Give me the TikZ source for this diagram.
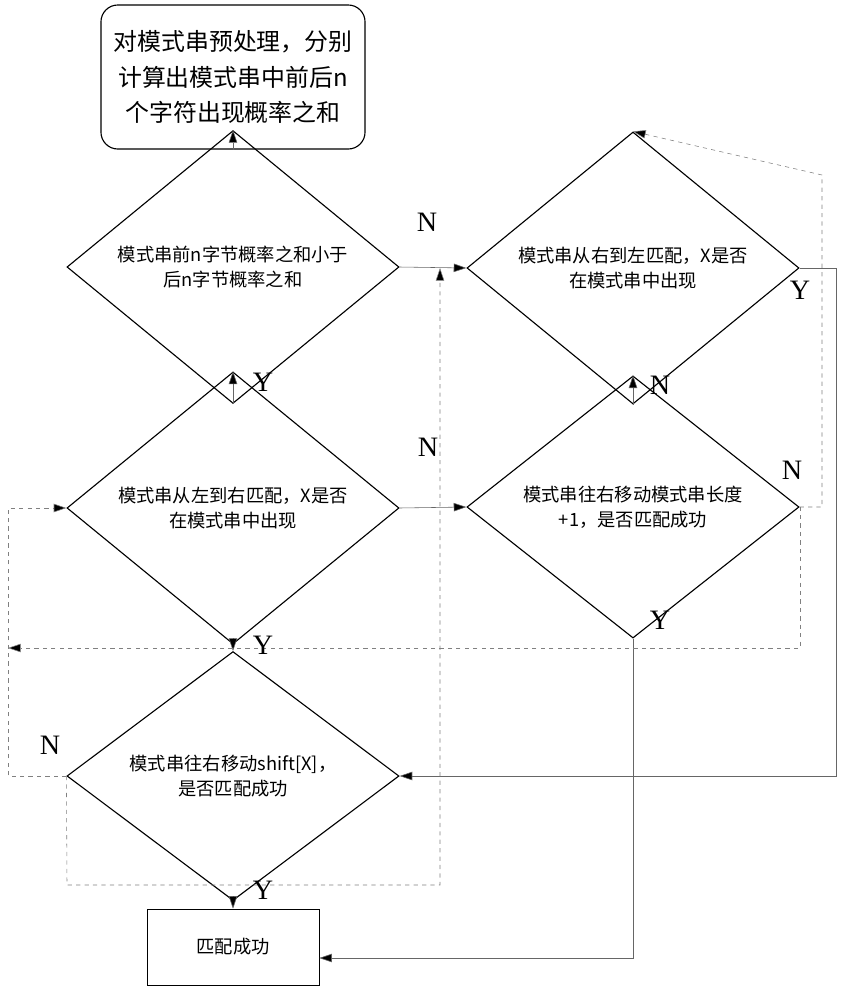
\documentclass[tikz,border=0pt]{standalone}
\usepackage{fontspec}
\setmainfont{Liberation Serif}
\newfontfamily\cjk{Noto Sans CJK SC}
\usetikzlibrary{shapes.geometric,arrows.meta}
\tikzset{
  decide/.style={diamond, draw=black, thick, minimum width=8.3cm, minimum height=4.65cm, inner sep=0pt, align=center, font=\cjk\fontsize{13}{18}\selectfont},
  flow/.style={draw=black!60, -{Triangle[length=9pt,width=6pt,fill=black]}},
  back/.style={draw=black!50, dashed, -{Triangle[length=9pt,width=6pt,fill=black]}},
  yn/.style={font=\fontsize{20}{20}\selectfont}
}
\begin{document}
\begin{tikzpicture}[x=0.025cm,y=-0.025cm]
  \useasboundingbox (0,0) rectangle (844,1000);
  % boxes
  \node[draw, thick, rounded corners=12pt, minimum width=6.6cm, minimum height=3.6cm, align=center, font=\cjk\fontsize{17}{25}\selectfont] (prep) at (233,77) {对模式串预处理，分别\\计算出模式串中前后n\\个字符出现概率之和};
  \node[decide] (cmp) at (233,267) {模式串前n字节概率之和小于\\后n字节概率之和};
  \node[decide] (ltr) at (233,508) {模式串从左到右匹配，X是否\\在模式串中出现};
  \node[decide] (sft) at (233,776) {模式串往右移动shift[X]，\\是否匹配成功};
  \node[decide] (rtl) at (633,268) {模式串从右到左匹配，X是否\\在模式串中出现};
  \node[decide] (len) at (633,507) {模式串往右移动模式串长度\\+1，是否匹配成功};
  \node[draw, thin, minimum width=4.3cm, minimum height=1.9cm, font=\cjk\fontsize{13}{18}\selectfont] (done) at (233,947) {匹配成功};
  \coordinate (jn) at (440,268);
  % solid connectors
  \draw[flow] (prep) -- (cmp);
  \draw[flow] (cmp.east) -- (rtl.west);
  \draw[flow] (cmp) -- (ltr);
  \draw[flow] (ltr.east) -- (len.west);
  \draw[flow] (ltr) -- (sft);
  \draw[flow] (rtl) -- (len);
  \draw[flow] (sft) -- (done);
  \draw[flow] (rtl.east) -- (836,268) -- (836,776) -- (sft.east);
  \draw[flow] (len.south) -- (633,958) -- (done.east |- 0,958);
  % dashed returns
  \draw[back] (len.east) -- (822,507) -- (822,175) -- (rtl.north);
  \draw[back] (len.east) -- (800,507) -- (800,648) -- (8,648);
  \draw[back] (sft.west) -- (8,776) -- (8,508) -- (ltr.west);
  \draw[back] (sft.west) -- (67,885) -- (440,885) -- (jn);
  % labels
  \node[yn] (l1) at (427,222) {N};
  \node[yn] (l2) at (263,382) {Y};
  \node[yn] (l3) at (428,447) {N};
  \node[yn] (l4) at (263,645) {Y};
  \node[yn] (l5) at (50,745) {N};
  \node[yn] (l6) at (263,890) {Y};
  \node[yn] (l7) at (800,290) {Y};
  \node[yn] (l8) at (660,385) {N};
  \node[yn] (l9) at (792,470) {N};
  \node[yn] (l10) at (660,620) {Y};
\end{tikzpicture}
\end{document}
